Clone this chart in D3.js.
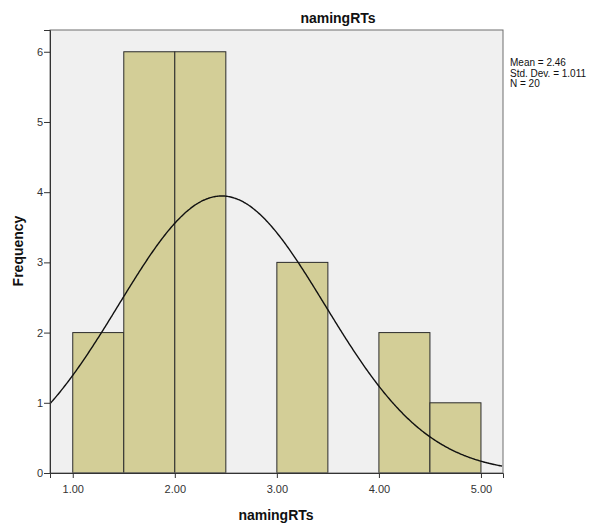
<!DOCTYPE html>
<html>
<head>
<meta charset="utf-8">
<script src="https://cdn.jsdelivr.net/npm/d3@7"></script>
<style>
  body { margin: 0; background: #fff; }
  text { font-family: "Liberation Sans", Arial, sans-serif; }
</style>
</head>
<body>
<svg id="chart" width="606" height="528"></svg>
<script>
// histogram bins (lower edge, upper edge, count)
const binStart = [1.0, 1.5, 2.0, 2.5, 3.0, 3.5, 4.0, 4.5];
const binEnd = [1.5, 2.0, 2.5, 3.0, 3.5, 4.0, 4.5, 5.0];
const counts = [2, 6, 6, 0, 3, 0, 2, 1];
const xTicks = [1, 2, 3, 4, 5];
const yTicks = [0, 1, 2, 3, 4, 5, 6];
const mean = 2.46;
const sd = 1.011;
const n = 20;

const svg = d3.select("#chart");
const plotLeft = 50, plotRight = 503, plotTop = 30, plotBottom = 473;

const x = d3.scaleLinear().domain([0.777, 5.216]).range([plotLeft, plotRight]);
const y = d3.scaleLinear().domain([0, 6.31]).range([plotBottom, plotTop]);

// plot background
svg.append("rect")
  .attr("x", plotLeft).attr("y", plotTop)
  .attr("width", plotRight - plotLeft).attr("height", plotBottom - plotTop)
  .style("fill", "#f0f0f0");

const bins = binStart.map((s, i) => ({ x0: s, x1: binEnd[i], count: counts[i] }));

svg.selectAll(".bar")
  .data(bins.filter(d => d.count > 0))
  .enter()
  .append("rect")
  .attr("class", "bar")
  .attr("x", d => x(d.x0))
  .attr("y", d => y(d.count))
  .attr("width", d => x(d.x1) - x(d.x0))
  .attr("height", d => y(0) - y(d.count))
  .style("fill", "#d3ce97")
  .style("stroke", "#2b2b2b")
  .style("stroke-width", 1);

// normal curve scaled to the histogram
const binWidth = 0.5;
const xs = d3.range(0.777, 5.2161, 0.01);
const line = d3.line()
  .x(d => x(d))
  .y(d => y(n * binWidth * Math.exp(-0.5 * ((d - mean) / sd) ** 2) / (sd * Math.sqrt(2 * Math.PI))))
  .curve(d3.curveBasis);

svg.append("path")
  .datum(xs)
  .attr("d", line)
  .style("fill", "none")
  .style("stroke", "#111")
  .style("stroke-width", 1.4);

// frame
svg.append("rect")
  .attr("x", plotLeft).attr("y", plotTop)
  .attr("width", plotRight - plotLeft).attr("height", plotBottom - plotTop)
  .style("fill", "none")
  .style("stroke", "#6e6e6e")
  .style("stroke-width", 1);

// axes
const xAxis = svg.append("g")
  .attr("transform", "translate(0," + plotBottom + ")")
  .call(d3.axisBottom(x).tickValues(xTicks).tickFormat(d3.format(".2f")).tickSizeOuter(0).tickSize(5));
const yAxis = svg.append("g")
  .attr("transform", "translate(" + plotLeft + ",0)")
  .call(d3.axisLeft(y).tickValues(yTicks).tickFormat(d3.format("d")).tickSizeOuter(0).tickSize(6));

[xAxis, yAxis].forEach(g => {
  g.select(".domain").style("stroke", "#333");
  g.selectAll(".tick line").style("stroke", "#333");
  g.selectAll("text")
    .style("font-size", "11px")
    .style("fill", "#333")
    .style("font-family", "'Liberation Sans', Arial, sans-serif");
});
xAxis.selectAll("text").attr("dy", "1.1em");
yAxis.selectAll("text").attr("x", -7);

// titles
svg.append("text")
  .attr("x", 338).attr("y", 23)
  .attr("text-anchor", "middle")
  .style("font-size", "14px").style("font-weight", "bold").style("fill", "#111")
  .text("namingRTs");

svg.append("text")
  .attr("x", 276).attr("y", 520)
  .attr("text-anchor", "middle")
  .style("font-size", "14px").style("font-weight", "bold").style("fill", "#111")
  .text("namingRTs");

svg.append("text")
  .attr("transform", "translate(23,251) rotate(-90)")
  .attr("text-anchor", "middle")
  .style("font-size", "14px").style("font-weight", "bold").style("fill", "#111")
  .text("Frequency");

// summary statistics
const stats = ["Mean = " + mean.toFixed(2), "Std. Dev. = " + sd.toFixed(3), "N = " + n];
svg.selectAll(".stat")
  .data(stats)
  .enter()
  .append("text")
  .attr("class", "stat")
  .attr("x", 510)
  .attr("y", (d, i) => 66 + i * 10.5)
  .style("font-size", "10px")
  .style("fill", "#111")
  .text(d => d);
</script>
</body>
</html>
